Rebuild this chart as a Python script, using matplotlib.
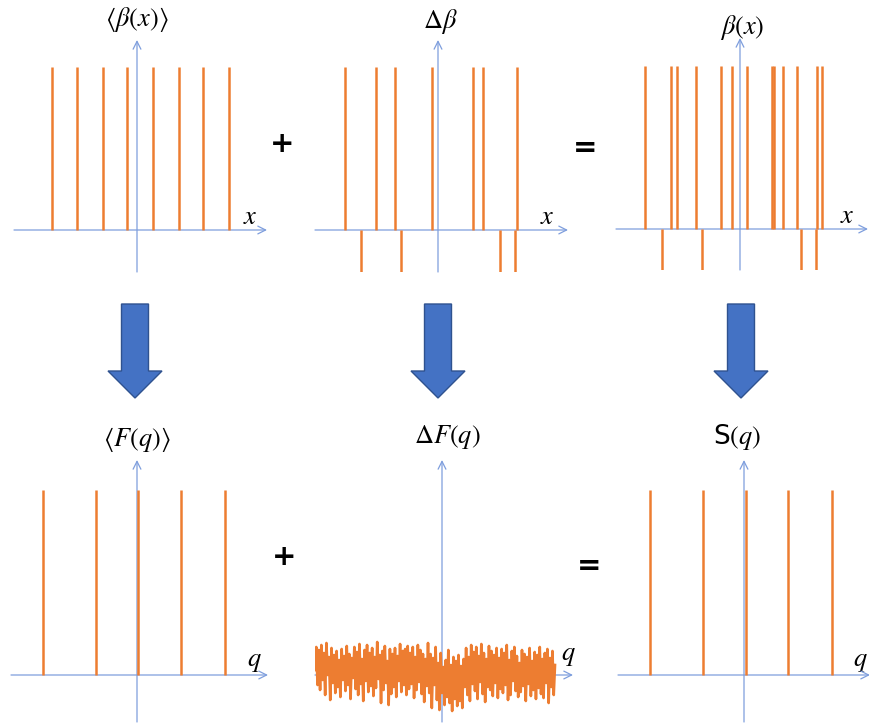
import numpy as np
import matplotlib.pyplot as plt
from matplotlib.patches import FancyArrow

plt.rcParams["mathtext.fontset"] = "stix"

# -----------------------------------------------------
# DATA (x positions as offsets from the origin, heights in units)
# -----------------------------------------------------
beta_mean_x = [-85, -60, -34, -10, 16, 42, 66, 92]
beta_mean_h = [1.0, 1.0, 1.0, 1.0, 1.0, 1.0, 1.0, 1.0]

dbeta_x = [-93, -77, -62, -43, -37, -6, 35, 45, 62, 77, 79]
dbeta_h = [1.0, -0.26, 1.0, 1.0, -0.26, 1.0, 1.0, 1.0, -0.26, -0.26, 1.0]

beta_x = [-95, -78, -69, -63, -44, -38, -19, -8, 7, 32, 34, 43, 57, 61, 76, 77, 82]
beta_h = [1.0, -0.26, 1.0, 1.0, 1.0, -0.26, 1.0, 1.0, 1.0, 1.0, 1.0, 1.0, 1.0,
          -0.26, -0.26, 1.0, 1.0]

F_mean_q = [-94, -41, 1, 44, 88]
F_mean_h = [1.0, 1.0, 1.0, 1.0, 1.0]

S_q = [-94, -41, 2, 44, 88]
S_h = [1.0, 1.0, 1.0, 1.0, 1.0]

# fluctuation part of the form factor (in px offsets)
dF_vals = [5, 28, -10, 25, -15, 30, -5, 22, -20, 32, 0, 18, -25, 27, -8, 20,
           -18, 24, -12, 15, -22, 26, -5, 19, -16, 29, -10, 21, -24, 17, -3,
           28, -14, 23, -20, 31, -9, 16, -26, 25, -6, 30, -17, 22, -11, 27,
           -21, 18, -13, 33, -4, 20, -28, 24, -15, 29, -8, 14, -30, 26, -19,
           21, -12, 27, -22, 19, -6, 31, -17, 24, -10, 26, -20, 29, -14, 22,
           -9, 28, -23, 18, -15, 30, -7, 25, -19, 21, -27, 16, -11, 32, -18,
           21, -33, 17, -10, 28, -25, 12, -35, 22, -18, 8, -30, 15, -22, 25,
           -28, 10, -36, 18, -24, 14, -31, 20, -26, 9, -33, 16,
           -12, 27, -20, 18, -26, 30, -9, 23, -16, 28, -24, 19, -7, 31, -19,
           22, -27, 16, -12, 29, -15, 24, -21, 20, -8, 27, -23, 17, -14, 26,
           -18, 22, -10, 30, -25, 15, -20, 24, -6, 28, -16, 19, -22, 12,
           -17, 25, -11, 21, -26, 18, -9, 27, -21, 14, -15, 23, -24, 20,
           -13, 28, -19, 16, -23, 22, -8, 26, -28, 17, -12, 24, -20, 10]
dF_start, dF_stop = -127, 113

# -----------------------------------------------------
# STYLE
# -----------------------------------------------------
W, H = 870, 724
orange = "#ED7D31"
axis_blue = "#7E9EDD"
arrow_fill = "#4472C4"
arrow_edge = "#2F528F"

fig = plt.figure(figsize=(W / 100, H / 100), dpi=100)

# overlay for arrows and symbols, pixel coordinates
over = fig.add_axes([0, 0, 1, 1])
over.set_xlim(0, W)
over.set_ylim(H, 0)
over.axis("off")


def make_panel(ox, oy, xlo, xhi, ylo, yhi, scale):
    # ox, oy: origin in px; xlo/xhi/ylo/yhi: extents in px offsets
    left = (ox + xlo) / W
    bottom = (H - (oy - ylo)) / H
    ax = fig.add_axes([left, bottom, (xhi - xlo) / W, (yhi - ylo) / H])
    ax.set_xlim(xlo, xhi)
    ax.set_ylim(ylo / scale, yhi / scale)
    ax.axis("off")
    ax.annotate("", xy=(xhi, 0), xytext=(xlo, 0),
                arrowprops=dict(arrowstyle="->", color=axis_blue, lw=0.9,
                                mutation_scale=14, shrinkA=0, shrinkB=0),
                annotation_clip=False, zorder=1)
    ax.annotate("", xy=(0, yhi / scale), xytext=(0, ylo / scale),
                arrowprops=dict(arrowstyle="->", color=axis_blue, lw=0.9,
                                mutation_scale=14, shrinkA=0, shrinkB=0),
                annotation_clip=False, zorder=1)
    return ax


# top row
ax1 = make_panel(137, 230, -123, 130, -42, 190, 163)
ax1.vlines(beta_mean_x, 0, beta_mean_h, color=orange, lw=1.8, zorder=2)

ax2 = make_panel(438, 230, -123, 130, -42, 190, 163)
ax2.vlines(dbeta_x, 0, dbeta_h, color=orange, lw=1.8, zorder=2)

ax3 = make_panel(740, 229, -124, 128, -41, 191, 163)
ax3.vlines(beta_x, 0, beta_h, color=orange, lw=1.8, zorder=2)

# bottom row
ax4 = make_panel(137, 675, -126, 131, -47, 215, 185)
ax4.vlines(F_mean_q, 0, F_mean_h, color=orange, lw=1.8, zorder=2)

ax5 = make_panel(442, 675, -127, 131, -47, 215, 185)
q_noise = np.linspace(dF_start, dF_stop, len(dF_vals))
ax5.plot(q_noise, np.array(dF_vals) / 185, color=orange, lw=1.9, zorder=2)

ax6 = make_panel(744, 675, -126, 126, -47, 215, 185)
ax6.vlines(S_q, 0, S_h, color=orange, lw=1.8, zorder=2)

# -----------------------------------------------------
# LABELS
# -----------------------------------------------------
lab = dict(ha="center", va="center", fontsize=19, color="black")
over.text(137, 19, r"$\langle\beta(x)\rangle$", **lab)
over.text(440, 21, r"$\Delta\beta$", **lab)
over.text(742, 27, r"$\beta(x)$", **lab)
over.text(137, 439, r"$\langle F(q)\rangle$", **lab)
over.text(447, 437, r"$\Delta F(q)$", **lab)
over.text(737, 437, r"S$(q)$", fontfamily="DejaVu Sans", **lab)

for px, py, t in [(250, 217, "x"), (547, 217, "x"), (847, 216, "x"),
                  (254, 661, "q"), (568, 655, "q"), (860, 661, "q")]:
    over.text(px, py, "$%s$" % t, **lab)

sym = dict(ha="center", va="center", fontsize=21, fontweight="bold",
           color="black")
over.text(282, 144, "+", **sym)
over.text(585, 148, "=", **sym)
over.text(284, 557, "+", **sym)
over.text(589, 566, "=", **sym)

# big down arrows
for cx in [135, 438, 741]:
    over.add_patch(FancyArrow(cx, 304, 0, 94, width=27, head_width=54,
                              head_length=27, length_includes_head=True,
                              fc=arrow_fill, ec=arrow_edge, lw=1))

plt.savefig("out.png", dpi=100)
